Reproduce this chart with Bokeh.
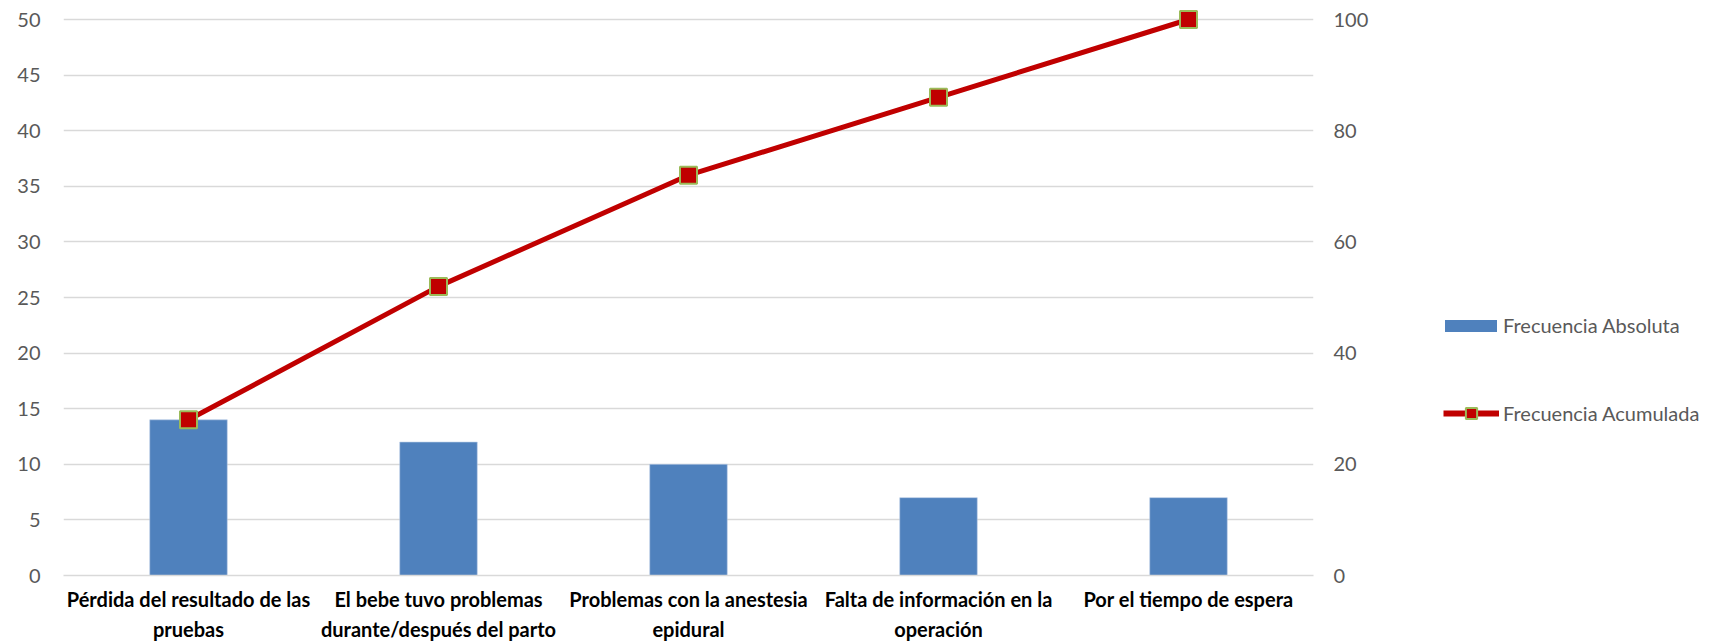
from bokeh.plotting import figure
from bokeh.layouts import row
from bokeh.models import (Range1d, LinearAxis, CategoricalAxis, Legend, LegendItem,
                          FactorRange, SingleIntervalTicker)
from bokeh.embed import file_html
from bokeh.resources import INLINE

# category names, written as the two lines the chart shows them on
categories = [
    "Pérdida del resultado de las",
    "El bebe tuvo problemas",
    "Problemas con la anestesia",
    "Falta de información en la",
    "Por el tiempo de espera",
]
categories_line2 = ["pruebas", "durante/después del parto", "epidural", "operación", " "]
frecuencia_absoluta = [14, 12, 10, 7, 7]
frecuencia_acumulada = [28, 52, 72, 86, 100]
series_names = ["Frecuencia Absoluta", "Frecuencia Acumulada"]

FONT = "Lato"
GRAY = "#595959"
BAR = "#4f81bd"
RED = "#c00000"
GREEN = "#9bbb59"
H = 643

p = figure(x_range=FactorRange(*categories), y_range=Range1d(0, 50.9),
           width=1380, height=H, output_backend="svg", toolbar_location=None,
           min_border_left=63, min_border_right=67, min_border_top=9,
           min_border_bottom=68)
p.extra_y_ranges = {"pct": Range1d(0, 101.8)}
p.extra_x_ranges = {"line2": FactorRange(*categories_line2)}
p.outline_line_color = None

p.xgrid.grid_line_color = None
p.ygrid.ticker = SingleIntervalTicker(interval=5)
p.ygrid.grid_line_color = "#d9d9d9"
p.ygrid.grid_line_width = 1.3


def style_val_axis(ax, standoff):
    ax.axis_line_color = None
    ax.major_tick_line_color = None
    ax.minor_tick_line_color = None
    ax.major_tick_out = 0
    ax.major_tick_in = 0
    ax.minor_tick_out = 0
    ax.major_label_standoff = standoff
    ax.major_label_text_font = FONT
    ax.major_label_text_font_size = "20px"
    ax.major_label_text_color = GRAY


ya = p.yaxis[0]
ya.ticker = SingleIntervalTicker(interval=5)
style_val_axis(ya, 23)

ax_r = LinearAxis(y_range_name="pct", ticker=SingleIntervalTicker(interval=20))
style_val_axis(ax_r, 20)
p.add_layout(ax_r, "right")


def style_cat_axis(ax, standoff):
    ax.major_tick_line_color = None
    ax.minor_tick_line_color = None
    ax.major_tick_out = 0
    ax.major_tick_in = 0
    ax.minor_tick_out = 0
    ax.major_label_standoff = standoff
    ax.major_label_text_font = FONT
    ax.major_label_text_font_size = "20px"
    ax.major_label_text_font_style = "bold"
    ax.major_label_text_color = "black"


xa = p.xaxis[0]
xa.axis_line_color = "#d9d9d9"
xa.axis_line_width = 1.3
style_cat_axis(xa, 11)

xa2 = CategoricalAxis(x_range_name="line2")
xa2.axis_line_color = None
style_cat_axis(xa2, 3)
p.add_layout(xa2, "below")

bars = p.vbar(x=categories, top=frecuencia_absoluta, width=0.31,
              fill_color=BAR, line_color="#b9cde5", line_width=0.6)
line = p.line(x=categories, y=frecuencia_acumulada, y_range_name="pct",
              line_color=RED, line_width=5)
sq = p.scatter(x=categories, y=frecuencia_acumulada, y_range_name="pct",
               marker="square", size=17, fill_color=RED,
               line_color=GREEN, line_width=2)

# legend panel at the right: same series, hidden, only their legend shows
lf = figure(width=325, height=H, x_range=FactorRange(*categories),
            y_range=Range1d(150, 250), output_backend="svg",
            toolbar_location=None, min_border=0, min_border_left=0,
            min_border_right=0, min_border_top=0, min_border_bottom=0)
lf.axis.visible = False
lf.grid.visible = False
lf.outline_line_color = None
pb = lf.vbar(x=categories, top=frecuencia_absoluta, width=0.31, fill_color=BAR,
             line_color=None)
pl = lf.line(x=categories, y=frecuencia_acumulada, line_color=RED, line_width=6)
ps = lf.scatter(x=categories, y=frecuencia_acumulada, marker="square",
                fill_color=RED, line_color=GREEN, line_width=2)
for r in (pb, pl, ps):
    r.visible = False

common = dict(padding=0, margin=0, border_line_color=None,
              background_fill_alpha=0, label_text_font=FONT,
              label_text_font_size="20px", label_text_color=GRAY,
              inactive_fill_alpha=0)
leg1 = Legend(items=[LegendItem(label=series_names[0], renderers=[pb])],
              location=(58, 238), glyph_width=65, glyph_height=15,
              label_height=15, label_standoff=0, **common)
leg2 = Legend(items=[LegendItem(label=series_names[1], renderers=[pl, ps])],
              location=(63, 148), glyph_width=56, glyph_height=28,
              label_height=28, label_standoff=4, **common)
lf.add_layout(leg1)
lf.add_layout(leg2)

open("out.html", "w").write(file_html(row(p, lf), INLINE))
